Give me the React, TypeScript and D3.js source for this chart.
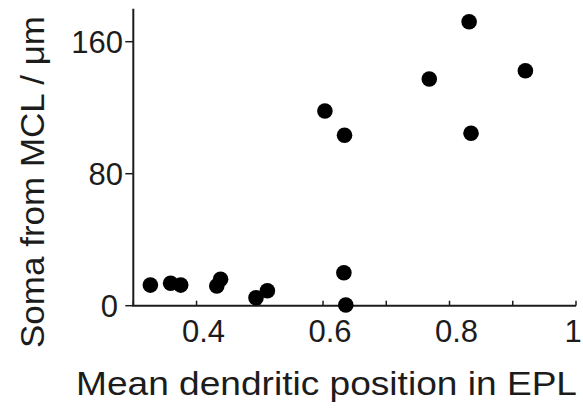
import React from "react";
import * as d3 from "d3";

const xValues = [0.327, 0.359, 0.375, 0.432, 0.438, 0.494, 0.512, 0.633, 0.636, 0.603, 0.634, 0.768, 0.831, 0.834, 0.920];
const yValues = [12.5, 13.6, 12.5, 11.9, 16.0, 4.8, 9.1, 20.0, 0.4, 118.0, 103.3, 137.4, 172.1, 104.5, 142.4];
const xTickMarks = [0.3, 0.4, 0.5, 0.6, 0.7, 0.8, 0.9, 1.0];
const xTickLabels = [0.4, 0.6, 0.8, 1];
const yTickLabels = [0, 80, 160];

const W = 583;
const H = 408;
const FONT = "'Liberation Sans', Arial, Helvetica, sans-serif";
const INK = "#1c1c1c";

export default function App() {
  const x = d3.scaleLinear().domain([0.3, 1.0]).range([133.3, 576]);
  const y = d3.scaleLinear().domain([0, 180]).range([305.7, 8.7]);
  const fmt = (v: number) => (v === 1 ? "1" : d3.format(".1f")(v));
  const points = xValues.map((v, i) => ({ x: v, y: yValues[i] }));

  return (
    <svg
      width={W}
      height={H}
      style={{ position: "absolute", left: 0, top: 0, background: "#fff" }}
      fontFamily={FONT}
    >
      {/* axes */}
      <line x1={x(0.3)} x2={x(0.3)} y1={y(180)} y2={y(0)} stroke={INK} strokeWidth={2} />
      <line x1={x(0.3) - 1} x2={x(1.0)} y1={y(0)} y2={y(0)} stroke={INK} strokeWidth={2} />
      {xTickMarks.map((t) => (
        <line key={"xt" + t} x1={x(t)} x2={x(t)} y1={y(0)} y2={y(0) - 5} stroke={INK} strokeWidth={1.5} />
      ))}
      {yTickLabels.map((t) => (
        <line key={"yt" + t} x1={x(0.3) - 8} x2={x(0.3)} y1={y(t)} y2={y(t)} stroke={INK} strokeWidth={1.5} />
      ))}
      {xTickLabels.map((t) => (
        <text
          key={"xl" + t}
          x={x(t) + (t === 1 ? -3 : 7)}
          y={342}
          textAnchor="middle"
          fontSize={31}
          fill={INK}
        >
          {fmt(t)}
        </text>
      ))}
      {yTickLabels.map((t) => (
        <text
          key={"yl" + t}
          x={123 - (t === 0 ? 5 : 0)}
          y={y(t)}
          dy="0.36em"
          textAnchor="end"
          fontSize={31}
          fill={INK}
        >
          {t}
        </text>
      ))}
      {/* points */}
      {points.map((p, i) => (
        <circle key={i} cx={x(p.x)} cy={y(p.y)} r={7.8} fill="#000" />
      ))}
      {/* titles */}
      <text
        x={326.5}
        y={395}
        textAnchor="middle"
        fontSize={33}
        fill={INK}
        textLength={501}
        lengthAdjust="spacingAndGlyphs"
      >
        Mean dendritic position in EPL
      </text>
      <text
        transform={`translate(44, 182) rotate(-90)`}
        textAnchor="middle"
        fontSize={33}
        fill={INK}
        textLength={332}
        lengthAdjust="spacingAndGlyphs"
      >
        Soma from MCL / μm
      </text>
    </svg>
  );
}
